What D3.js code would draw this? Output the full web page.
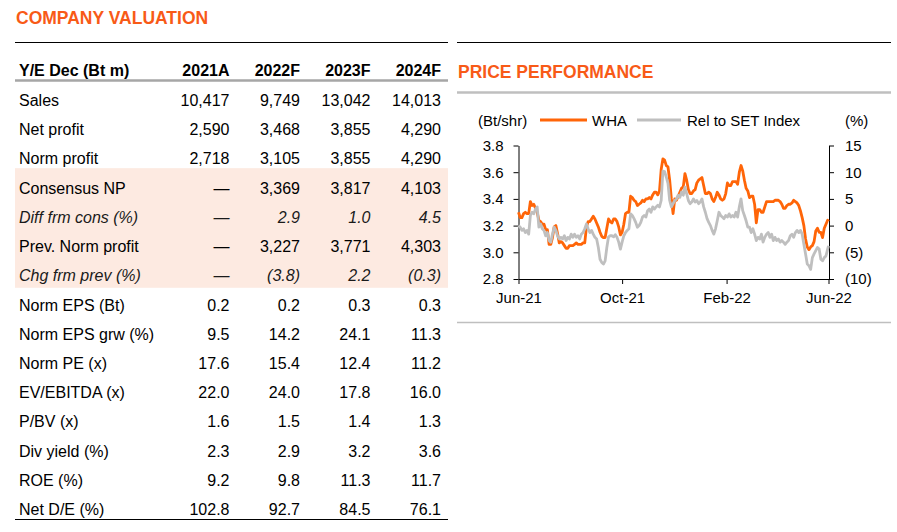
<!DOCTYPE html>
<html>
<head>
<meta charset="utf-8">
<script src="https://cdn.jsdelivr.net/npm/d3@7"></script>
<style>
  body { margin: 0; background: #fff; }
  svg { display: block; font-family: "Liberation Sans", Arial, sans-serif; }
</style>
</head>
<body>
<svg id="page" width="897" height="532"></svg>
<script>
// ---- table data ----
var years = ['2021A', '2022F', '2023F', '2024F'];
var rowLabels = ['Sales', 'Net profit', 'Norm profit', 'Consensus NP', 'Diff frm cons (%)',
  'Prev. Norm profit', 'Chg frm prev (%)', 'Norm EPS (Bt)', 'Norm EPS grw (%)', 'Norm PE (x)',
  'EV/EBITDA (x)', 'P/BV (x)', 'Div yield (%)', 'ROE (%)', 'Net D/E (%)'];
var rowValues = [
  [10417, 9749, 13042, 14013],
  [2590, 3468, 3855, 4290],
  [2718, 3105, 3855, 4290],
  [null, 3369, 3817, 4103],
  [null, 2.9, 1.0, 4.5],
  [null, 3227, 3771, 4303],
  [null, -3.8, 2.2, -0.3],
  [0.2, 0.2, 0.3, 0.3],
  [9.5, 14.2, 24.1, 11.3],
  [17.6, 15.4, 12.4, 11.2],
  [22.0, 24.0, 17.8, 16.0],
  [1.6, 1.5, 1.4, 1.3],
  [2.3, 2.9, 3.2, 3.6],
  [9.2, 9.8, 11.3, 11.7],
  [102.8, 92.7, 84.5, 76.1]
];
var rowDecimals = [0, 0, 0, 0, 1, 0, 1, 1, 1, 1, 1, 1, 1, 1, 1];
var italicRows = [4, 6];
var shadedRows = [3, 6]; // first and last shaded row

// ---- price chart data (every 2nd day) ----
var priceDates = [
  '2021-06-01','2021-06-03','2021-06-05','2021-06-07','2021-06-09','2021-06-11','2021-06-13','2021-06-15','2021-06-17','2021-06-19','2021-06-21','2021-06-23','2021-06-25','2021-06-27','2021-06-29',
  '2021-07-01','2021-07-03','2021-07-05','2021-07-07','2021-07-09','2021-07-11','2021-07-13','2021-07-15','2021-07-17','2021-07-19','2021-07-21','2021-07-23','2021-07-25','2021-07-27','2021-07-29','2021-07-31',
  '2021-08-02','2021-08-04','2021-08-06','2021-08-08','2021-08-10','2021-08-12','2021-08-14','2021-08-16','2021-08-18','2021-08-20','2021-08-22','2021-08-24','2021-08-26','2021-08-28','2021-08-30',
  '2021-09-01','2021-09-03','2021-09-05','2021-09-07','2021-09-09','2021-09-11','2021-09-13','2021-09-15','2021-09-17','2021-09-19','2021-09-21','2021-09-23','2021-09-25','2021-09-27','2021-09-29',
  '2021-10-01','2021-10-03','2021-10-05','2021-10-07','2021-10-09','2021-10-11','2021-10-13','2021-10-15','2021-10-17','2021-10-19','2021-10-21','2021-10-23','2021-10-25','2021-10-27','2021-10-29','2021-10-31',
  '2021-11-02','2021-11-04','2021-11-06','2021-11-08','2021-11-10','2021-11-12','2021-11-14','2021-11-16','2021-11-18','2021-11-20','2021-11-22','2021-11-24','2021-11-26','2021-11-28','2021-11-30',
  '2021-12-02','2021-12-04','2021-12-06','2021-12-08','2021-12-10','2021-12-12','2021-12-14','2021-12-16','2021-12-18','2021-12-20','2021-12-22','2021-12-24','2021-12-26','2021-12-28','2021-12-30',
  '2022-01-01','2022-01-03','2022-01-05','2022-01-07','2022-01-09','2022-01-11','2022-01-13','2022-01-15','2022-01-17','2022-01-19','2022-01-21','2022-01-23','2022-01-25','2022-01-27','2022-01-29','2022-01-31',
  '2022-02-02','2022-02-04','2022-02-06','2022-02-08','2022-02-10','2022-02-12','2022-02-14','2022-02-16','2022-02-18','2022-02-20','2022-02-22','2022-02-24','2022-02-26','2022-02-28',
  '2022-03-02','2022-03-04','2022-03-06','2022-03-08','2022-03-10','2022-03-12','2022-03-14','2022-03-16','2022-03-18','2022-03-20','2022-03-22','2022-03-24','2022-03-26','2022-03-28','2022-03-30',
  '2022-04-01','2022-04-03','2022-04-05','2022-04-07','2022-04-09','2022-04-11','2022-04-13','2022-04-15','2022-04-17','2022-04-19','2022-04-21','2022-04-23','2022-04-25','2022-04-27','2022-04-29',
  '2022-05-01','2022-05-03','2022-05-05','2022-05-07','2022-05-09','2022-05-11','2022-05-13','2022-05-15','2022-05-17','2022-05-19','2022-05-21','2022-05-23','2022-05-25','2022-05-27','2022-05-29','2022-05-31',
  '2022-06-01'
];
// WHA share price (Bt/shr)
var whaPrice = [
  3.30,3.26,3.26,3.29,3.30,3.29,3.29,3.38,3.35,3.36,3.33,3.30,3.24,3.23,3.21,
  3.21,3.17,3.17,3.06,3.06,3.11,3.19,3.20,3.14,3.07,3.08,3.07,3.05,3.03,3.03,3.05,
  3.05,3.05,3.06,3.07,3.06,3.06,3.06,3.07,3.07,3.19,3.23,3.23,3.25,3.27,3.25,
  3.22,3.19,3.15,3.12,3.11,3.11,3.18,3.25,3.23,3.22,3.25,3.25,3.23,3.19,3.13,
  3.15,3.21,3.29,3.30,3.30,3.42,3.41,3.39,3.38,3.35,3.36,3.37,3.39,3.38,3.40,3.40,
  3.41,3.40,3.43,3.45,3.45,3.43,3.46,3.62,3.70,3.69,3.65,3.64,3.54,3.40,3.29,
  3.40,3.39,3.42,3.45,3.48,3.49,3.59,3.54,3.47,3.44,3.44,3.46,3.47,3.52,3.54,
  3.55,3.56,3.50,3.44,3.44,3.45,3.44,3.40,3.38,3.41,3.45,3.43,3.40,3.39,3.40,3.44,
  3.52,3.50,3.50,3.53,3.53,3.53,3.51,3.60,3.65,3.61,3.54,3.48,3.46,3.41,
  3.42,3.42,3.36,3.22,3.32,3.32,3.30,3.30,3.34,3.38,3.38,3.38,3.38,3.38,3.39,
  3.39,3.39,3.38,3.36,3.33,3.33,3.35,3.36,3.36,3.37,3.39,3.38,3.37,3.35,3.31,
  3.26,3.20,3.10,3.04,3.02,3.04,3.05,3.08,3.16,3.18,3.15,3.15,3.11,3.18,3.21,3.24,
  3.23
];
// relative performance to SET Index (%)
var relToSet = [
  0.0,-0.3,-0.9,-0.6,-1.3,-0.9,-1.6,1.9,2.5,2.2,3.1,3.5,-0.3,0.3,-0.6,
  -0.9,-1.9,-1.3,-2.8,-3.1,-1.6,-0.3,-0.9,-1.9,-2.5,-2.2,-2.5,-1.9,-2.8,-2.2,-2.5,
  -1.6,-2.2,-1.6,-2.2,-1.9,-2.5,-1.6,-1.3,-0.6,0.3,-0.6,-1.3,-0.9,-1.6,-2.2,
  -2.5,-4.1,-6.3,-6.9,-7.2,-6.6,-4.1,-2.1,-1.9,-1.9,-2.1,-1.7,-2.2,-3.1,-4.4,
  -3.1,-1.9,-1.3,-0.9,-0.6,2.2,1.9,1.3,0.6,-0.3,0.0,0.6,1.6,1.9,1.6,2.8,
  3.1,2.5,3.5,3.1,3.5,3.8,3.5,4.7,10.2,10.1,9.1,7.9,4.7,3.5,4.1,
  4.7,5.0,5.7,5.3,6.3,5.7,7.2,6.0,4.7,4.1,4.4,5.0,4.4,4.7,4.1,
  4.4,5.0,3.5,2.5,1.3,0.6,0.0,-0.9,-1.6,-0.6,0.9,2.5,1.9,1.6,1.3,1.9,
  1.6,2.2,1.6,1.9,1.6,2.5,1.6,3.5,5.0,2.8,1.9,0.9,-0.3,-0.3,
  -1.3,-0.6,-1.6,-2.8,-2.2,-2.5,-1.6,-3.1,-2.2,-1.6,-1.3,-2.2,-1.6,-2.8,-2.2,
  -2.8,-2.5,-3.1,-2.8,-3.1,-3.5,-3.1,-2.8,-1.9,-1.6,-2.2,-1.3,-0.9,-1.3,-0.9,
  -1.6,-3.5,-5.3,-7.2,-7.5,-8.2,-6.0,-5.3,-4.7,-4.1,-4.4,-6.3,-6.6,-6.0,-5.7,-4.4,
  -3.8
];
var xTickDates = ['2021-06-01', '2021-10-01', '2022-02-01', '2022-06-01'];
var priceTicks = [2.8, 3.0, 3.2, 3.4, 3.6, 3.8];
var relTicks = [-10, -5, 0, 5, 10, 15];
var seriesNames = ['WHA', 'Rel to SET Index'];

var ORANGE = '#FF6508', GREY = '#BFBFBF', TITLE = '#F85A17', SHADE = '#FDEAE1';
var parse = d3.timeParse('%Y-%m-%d');
var svg = d3.select('#page');

// =============== COMPANY VALUATION table ===============
var tbl = svg.append('g');

tbl.append('text')
  .attr('x', 16).attr('y', 24)
  .attr('font-size', 17.5).attr('font-weight', 'bold')
  .attr('fill', TITLE)
  .text('COMPANY VALUATION');

tbl.append('line').attr('x1', 15).attr('x2', 448).attr('y1', 42.5).attr('y2', 42.5)
  .attr('stroke', '#000').attr('stroke-width', 1);

var colX = d3.scalePoint().domain(years).range([229.5, 441]);
var rowY = d3.scaleLinear().domain([0, rowLabels.length - 1]).range([106, 515]);

// shaded consensus block
tbl.append('rect')
  .attr('x', 15).attr('width', 433)
  .attr('y', rowY(shadedRows[0]) - 25.5)
  .attr('height', rowY(shadedRows[1]) - rowY(shadedRows[0]) + 32)
  .attr('fill', SHADE);

// header
tbl.append('text')
  .attr('x', 19).attr('y', 76)
  .attr('font-size', 16).attr('font-weight', 'bold')
  .text('Y/E Dec (Bt m)');
tbl.selectAll('.yr').data(years).enter().append('text')
  .attr('class', 'yr')
  .attr('x', function(d) { return colX(d); }).attr('y', 76)
  .attr('text-anchor', 'end')
  .attr('font-size', 16).attr('font-weight', 'bold')
  .text(function(d) { return d; });
tbl.append('line').attr('x1', 15).attr('x2', 448).attr('y1', 80.5).attr('y2', 80.5)
  .attr('stroke', '#A6A6A6').attr('stroke-width', 2.5);

function fmtCell(v, dp) {
  if (v === null) return '\u2014';
  var s = dp === 0 ? d3.format(',.0f')(Math.abs(v)) : d3.format('.' + dp + 'f')(Math.abs(v));
  return v < 0 ? '(' + s + ')' : s;
}

var rows = tbl.selectAll('.row').data(rowLabels).enter().append('g')
  .attr('class', 'row')
  .attr('transform', function(d, i) { return 'translate(0,' + rowY(i) + ')'; })
  .attr('font-size', 16)
  .attr('font-style', function(d, i) { return italicRows.indexOf(i) >= 0 ? 'italic' : 'normal'; })
  .attr('fill', function(d, i) { return italicRows.indexOf(i) >= 0 ? '#1a1a1a' : '#000'; });

rows.append('text').attr('x', 19).text(function(d) { return d; });

rows.each(function(d, i) {
  d3.select(this).selectAll('.val').data(rowValues[i]).enter().append('text')
    .attr('class', 'val')
    .attr('x', function(v, j) { return colX(years[j]); })
    .attr('text-anchor', 'end')
    .text(function(v) { return fmtCell(v, rowDecimals[i]); });
});

tbl.append('line').attr('x1', 15).attr('x2', 448).attr('y1', 519.5).attr('y2', 519.5)
  .attr('stroke', '#000').attr('stroke-width', 1);

// =============== PRICE PERFORMANCE chart ===============
var ch = svg.append('g');

ch.append('line').attr('x1', 457).attr('x2', 891).attr('y1', 42.5).attr('y2', 42.5)
  .attr('stroke', '#000').attr('stroke-width', 1);
ch.append('text')
  .attr('x', 458).attr('y', 78)
  .attr('font-size', 17.5).attr('font-weight', 'bold')
  .attr('fill', TITLE)
  .text('PRICE PERFORMANCE');
ch.append('line').attr('x1', 457).attr('x2', 891).attr('y1', 92.5).attr('y2', 92.5)
  .attr('stroke', GREY).attr('stroke-width', 2.5);
ch.append('line').attr('x1', 457).attr('x2', 891).attr('y1', 322.5).attr('y2', 322.5)
  .attr('stroke', GREY).attr('stroke-width', 1.5);

var dates = priceDates.map(parse);
var x = d3.scaleTime()
  .domain([parse(xTickDates[0]), parse(xTickDates[xTickDates.length - 1])])
  .range([518.5, 828.5]);
var yL = d3.scaleLinear().domain([2.8, 3.8]).range([279, 145.5]);
var yR = d3.scaleLinear().domain([-10, 15]).range([279, 145.5]);

function styleAxis(g) {
  g.attr('font-family', null).attr('font-size', 15);
  g.selectAll('path, line').attr('stroke', '#000').attr('stroke-width', 1);
  g.selectAll('text').attr('fill', '#000');
}

ch.append('g')
  .attr('transform', 'translate(518.5,0)')
  .call(d3.axisLeft(yL).tickValues(priceTicks).tickSize(5).tickSizeOuter(0).tickPadding(10)
    .tickFormat(d3.format('.1f')))
  .call(styleAxis);

ch.append('g')
  .attr('transform', 'translate(829,0)')
  .call(d3.axisRight(yR).tickValues(relTicks).tickSize(5).tickSizeOuter(0).tickPadding(11)
    .tickFormat(function(d) { return d < 0 ? '(' + (-d) + ')' : d; }))
  .call(styleAxis);

ch.append('g')
  .attr('transform', 'translate(0,279)')
  .call(d3.axisBottom(x).tickValues(xTickDates.map(parse)).tickSize(5).tickSizeOuter(0).tickPadding(8)
    .tickFormat(d3.timeFormat('%b-%y')))
  .call(styleAxis);

var relLine = d3.line()
  .x(function(d, i) { return x(dates[i]); })
  .y(function(d) { return yR(d); });
var priceLine = d3.line()
  .x(function(d, i) { return x(dates[i]); })
  .y(function(d) { return yL(d); });

// secondary-axis series sits on top, as in the original
ch.append('path').datum(whaPrice)
  .attr('d', priceLine)
  .attr('fill', 'none').attr('stroke', ORANGE).attr('stroke-width', 2.8)
  .attr('stroke-linejoin', 'round');
ch.append('path').datum(relToSet)
  .attr('d', relLine)
  .attr('fill', 'none').attr('stroke', GREY).attr('stroke-width', 2.8)
  .attr('stroke-linejoin', 'round');

// legend + axis units
var lg = ch.append('g').attr('font-size', 15);
lg.append('text').attr('x', 478).attr('y', 125.5).text('(Bt/shr)');
lg.append('line').attr('x1', 540).attr('x2', 587).attr('y1', 120).attr('y2', 120)
  .attr('stroke', ORANGE).attr('stroke-width', 2.8);
lg.append('text').attr('x', 592).attr('y', 125.5).text(seriesNames[0]);
lg.append('line').attr('x1', 637).attr('x2', 681).attr('y1', 120).attr('y2', 120)
  .attr('stroke', GREY).attr('stroke-width', 2.8);
lg.append('text').attr('x', 687).attr('y', 125.5).text(seriesNames[1]);
lg.append('text').attr('x', 845).attr('y', 125.5).text('(%)');
</script>
</body>
</html>
